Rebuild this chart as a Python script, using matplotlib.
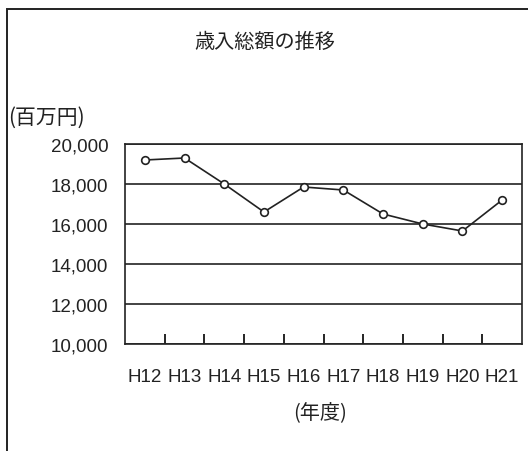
import matplotlib.pyplot as plt
from matplotlib.patches import Rectangle
from matplotlib.ticker import FixedLocator, FuncFormatter

# 歳入総額 (百万円)
years = ['H12', 'H13', 'H14', 'H15', 'H16', 'H17', 'H18', 'H19', 'H20', 'H21']
revenue = [19200, 19300, 18000, 16600, 17850, 17700, 16500, 16000, 15650, 17200]
yticks = [10000, 12000, 14000, 16000, 18000, 20000]

cjk = ['Noto Sans CJK JP', 'DejaVu Sans']
latin = ['Liberation Sans', 'DejaVu Sans']

fig = plt.figure(figsize=(5.28, 4.52), dpi=100)

# outer frame of the chart box
fig.patches.append(Rectangle((7/528, -0.1), 1.2, 1 - 10/452 + 0.1,
                             transform=fig.transFigure, fill=False,
                             edgecolor='#222222', lw=1.4))

ax = fig.add_axes([125/528, 1 - 345/452, 397/528, 200/452])
x = list(range(len(years)))
ax.plot(x, revenue, color='#222222', lw=1.2, marker='o', ms=5.5,
        mfc='white', mec='#222222', mew=1.2, zorder=3)

ax.set_xlim(-0.5, len(years) - 0.5)
ax.set_ylim(10000, 20000)
ax.set_yticks(yticks)
ax.yaxis.set_major_formatter(FuncFormatter(lambda v, p: f'{int(v):,}'))
ax.grid(axis='y', color='#222222', lw=1.2)
ax.set_axisbelow(True)

ax.set_xticks(x)
ax.set_xticklabels(years)
ax.xaxis.set_minor_locator(FixedLocator([i + 0.5 for i in x[:-1]]))
ax.tick_params(axis='x', which='major', length=0, pad=17)
ax.tick_params(axis='x', which='minor', direction='in', length=7, width=1.2)
ax.tick_params(axis='y', length=0, pad=12)
for lab in ax.get_xticklabels():
    lab.set_family(latin)
    lab.set_fontsize(13.5)
    lab.set_color('#222222')
for lab in ax.get_yticklabels():
    lab.set_family(latin)
    lab.set_fontsize(13.5)
    lab.set_color('#222222')
for s in ax.spines.values():
    s.set_color('#222222')
    s.set_linewidth(1.2)

fig.text(265/528, 1 - 42/452, '歳入総額の推移', family=cjk, fontsize=14.5,
         ha='center', va='center', color='#222222')
fig.text(8/528, 1 - 118/452, '(百万円)', family=cjk, fontsize=15,
         ha='left', va='center', color='#222222')
fig.text(320/528, 1 - 413/452, '(年度)', family=cjk, fontsize=14.5,
         ha='center', va='center', color='#222222')

fig.savefig('out.png', dpi=100)
